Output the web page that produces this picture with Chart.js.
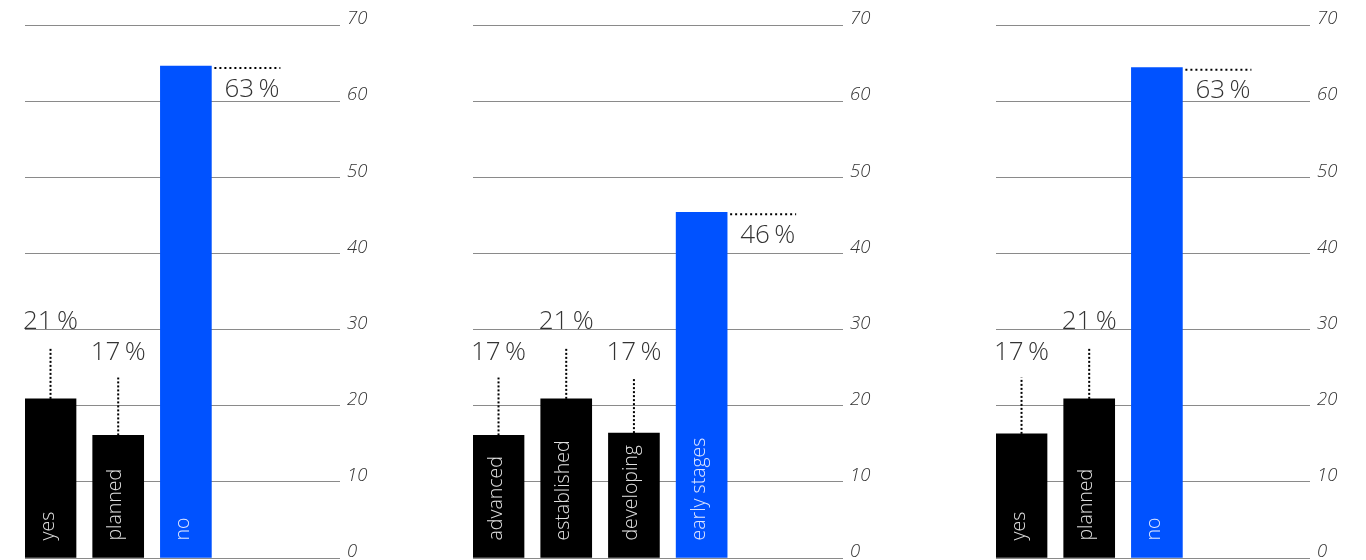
<!DOCTYPE html>
<html>
<head>
<meta charset="utf-8">
<script src="https://cdn.jsdelivr.net/npm/chart.js@4.4.1/dist/chart.umd.min.js"></script>
<style>
  html, body { margin: 0; padding: 0; background: #fff; }
  body { width: 1366px; height: 560px; position: relative; overflow: hidden; }
  .chart-container { position: absolute; top: 0; height: 560px; }
</style>
</head>
<body>
<div class="chart-container" style="left:0;width:380px"><canvas id="chart1"></canvas></div>
<div class="chart-container" style="left:448px;width:435px"><canvas id="chart2"></canvas></div>
<div class="chart-container" style="left:971px;width:379px"><canvas id="chart3"></canvas></div>
<script>
// dados
const yTicks = [0, 10, 20, 30, 40, 50, 60, 70];

const chart1Categories = ['yes', 'planned', 'no'];
const chart1Values = [20.9, 16.1, 64.6];
const chart1Percent = [21, 17, 63];

const chart2Categories = ['advanced', 'established', 'developing', 'early stages'];
const chart2Values = [16.1, 20.9, 16.4, 45.4];
const chart2Percent = [17, 21, 17, 46];

const chart3Categories = ['yes', 'planned', 'no'];
const chart3Values = [16.3, 20.9, 64.4];
const chart3Percent = [17, 21, 63];

const BLACK = '#000000';
const BLUE = '#0052ff';
const LABEL_FONT = '"Open Sans", Lato, sans-serif';

// desenha os rótulos dentro das barras e os valores com linha pontilhada
const barLabels = {
  id: 'barLabels',
  afterDatasetsDraw(chart) {
    const { ctx } = chart;
    const yScale = chart.scales.y;
    const cfg = chart.options.plugins.barLabels;
    const meta = chart.getDatasetMeta(0);
    const last = meta.data.length - 1;

    meta.data.forEach((bar, i) => {
      const right = bar.x + bar.width / 2;

      // categoria, rodada, na base da barra
      ctx.save();
      ctx.translate(bar.x + 3, bar.base - 17);
      ctx.rotate(-Math.PI / 2);
      ctx.font = '300 19.5px ' + LABEL_FONT;
      ctx.fillStyle = i === last ? '#dfe6ff' : '#e0e0e0';
      ctx.textAlign = 'left';
      ctx.textBaseline = 'alphabetic';
      ctx.fillText(cfg.categories[i], 0, 0);
      ctx.restore();

      const text = cfg.percent[i] + '\u2009%';
      ctx.save();
      ctx.strokeStyle = '#000';
      ctx.lineWidth = 2;
      ctx.font = '300 26px ' + LABEL_FONT;
      ctx.fillStyle = '#333';
      ctx.textBaseline = 'middle';

      if (i === last) {
        // linha horizontal a partir do topo da barra
        ctx.setLineDash([2, 3]);
        ctx.beginPath();
        ctx.moveTo(right + 3, bar.y + 2);
        ctx.lineTo(right + 69, bar.y + 2);
        ctx.stroke();
        ctx.textAlign = 'right';
        ctx.fillText(text, right + 68, bar.y + 23);
      } else {
        ctx.setLineDash([2, 2]);
        const top = yScale.getPixelForValue(cfg.percent[i] + 6.7);
        ctx.beginPath();
        ctx.moveTo(bar.x, bar.y);
        ctx.lineTo(bar.x, top);
        ctx.stroke();
        ctx.textAlign = 'center';
        ctx.fillText(text, bar.x, yScale.getPixelForValue(cfg.percent[i] + 10));
      }
      ctx.restore();
    });
  }
};

function makeChart(id, categories, values, percent, xMax) {
  const ctx = document.getElementById(id).getContext('2d');
  return new Chart(ctx, {
    type: 'bar',
    data: {
      datasets: [
        {
          data: values.map((v, i) => ({ x: i, y: v })),
          backgroundColor: values.map((v, i) => (i === values.length - 1 ? BLUE : BLACK)),
          barThickness: 51,
        },
      ],
    },
    options: {
      responsive: true,
      maintainAspectRatio: false,
      animation: false,
      layout: { padding: { left: 25, top: 25, bottom: 2, right: 0 } },
      plugins: {
        legend: { display: false },
        tooltip: { enabled: false },
        barLabels: { categories, percent },
      },
      scales: {
        x: { type: 'linear', offset: false, min: -0.377, max: xMax, display: false },
        y: {
          position: 'right',
          min: 0,
          max: 70,
          afterBuildTicks: (scale) => {
            scale.ticks = yTicks.map((v) => ({ value: v }));
          },
          afterFit: (scale) => {
            scale.width = 40;
            scale.paddingTop = 0;
            scale.paddingBottom = 0;
          },
          border: { display: false },
          grid: { color: '#8a8a8a', lineWidth: 1, drawTicks: false },
          ticks: {
            padding: 7,
            labelOffset: -6,
            color: '#333',
            font: { family: LABEL_FONT, size: 18.5, style: 'italic', weight: 300 },
          },
        },
      },
    },
    plugins: [barLabels],
  });
}

makeChart('chart1', chart1Categories, chart1Values, chart1Percent, 4.277);
makeChart('chart2', chart2Categories, chart2Values, chart2Percent, 5.088);
makeChart('chart3', chart3Categories, chart3Values, chart3Percent, 4.262);
</script>
</body>
</html>
